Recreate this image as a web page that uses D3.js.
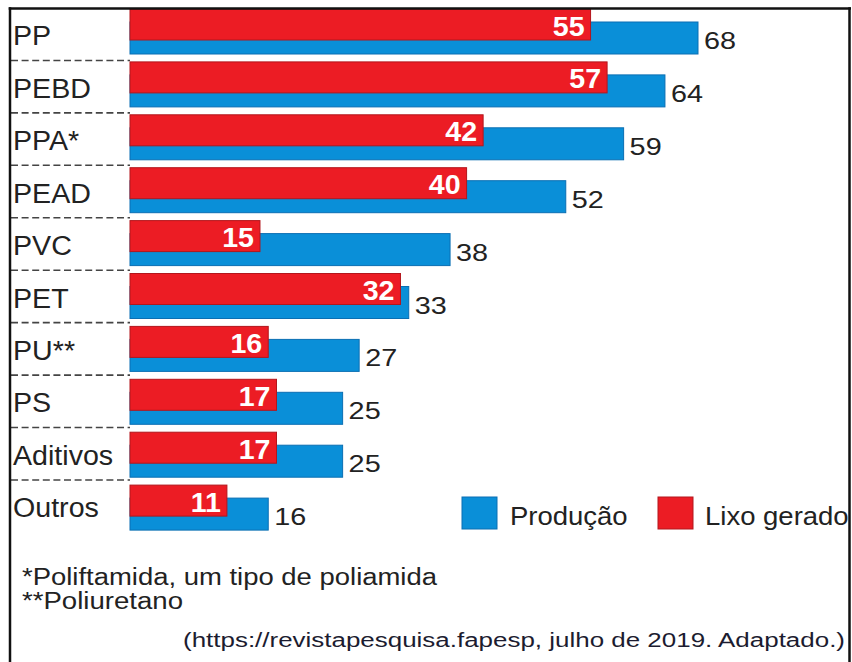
<!DOCTYPE html>
<html>
<head>
<meta charset="utf-8">
<script src="https://cdn.jsdelivr.net/npm/d3@7"></script>
<style>
  html, body { margin: 0; padding: 0; background: #fff; }
  svg { display: block; }
  text { font-family: "Liberation Sans", Arial, sans-serif; }
</style>
</head>
<body>
<script>
// ---- data ----
const categories = ["PP", "PEBD", "PPA*", "PEAD", "PVC", "PET", "PU**", "PS", "Aditivos", "Outros"];
const producao   = [68, 64, 59, 52, 38, 33, 27, 25, 25, 16];
const lixoGerado = [55, 57, 42, 40, 15, 32, 16, 17, 17, 11];
const seriesNames = ["Produção", "Lixo gerado"];
const footnotes = ["*Poliftamida, um tipo de poliamida", "**Poliuretano"];
const sourceText = "(https://revistapesquisa.fapesp, julho de 2019. Adaptado.)";

// ---- layout ----
const W = 852, H = 662;
const RED = "#ec1c24", BLUE = "#0a8fd8";
const RED_EDGE = "#b3161c", BLUE_EDGE = "#0a6fb3";
const TXT = "#222";

const svg = d3.select("body").append("svg").attr("width", W).attr("height", H);

const rows = categories.map((c, i) => ({ cat: c, prod: producao[i], lixo: lixoGerado[i] }));

const x = d3.scaleLinear().domain([0, 68]).range([136, 698]);
const barLeft = 130;
const yBar = d3.scaleBand().domain(categories).range([9, 9 + 52.9 * categories.length]).paddingInner(0);
const yRow = d3.scaleBand().domain(categories).range([8, 8 + 52.44 * categories.length]).paddingInner(0);

const redH = 31, blueOff = 13, blueH = 32;

// helper: text with horizontal stretch
function stretchText(g, sel) { return sel; }

// clip for the frame
svg.append("defs").append("clipPath").attr("id", "frame")
  .append("rect").attr("x", 0).attr("y", 0).attr("width", 848).attr("height", H);

const main = svg.append("g").attr("clip-path", "url(#frame)");

// separators
main.selectAll("line.sep").data(categories.slice(0, -1)).join("line")
  .attr("class", "sep")
  .attr("x1", 11).attr("x2", barLeft)
  .attr("y1", d => yRow(d) + yRow.bandwidth())
  .attr("y2", d => yRow(d) + yRow.bandwidth())
  .attr("stroke", "#444").attr("stroke-width", 1.6)
  .attr("stroke-dasharray", "7,3.6");

// category labels
main.selectAll("text.cat").data(categories).join("text")
  .attr("class", "cat")
  .attr("transform", d => `translate(13,${yRow(d) + 37.3}) scale(1.06,1)`)
  .attr("font-size", 27).attr("fill", TXT)
  .text(d => d);

// blue bars
main.selectAll("rect.prod").data(rows).join("rect")
  .attr("class", "prod")
  .attr("x", barLeft)
  .attr("y", d => yBar(d.cat) + blueOff)
  .attr("width", d => x(d.prod) - barLeft)
  .attr("height", blueH)
  .attr("fill", BLUE).attr("stroke", BLUE_EDGE).attr("stroke-width", 1);

// red bars
main.selectAll("rect.lixo").data(rows).join("rect")
  .attr("class", "lixo")
  .attr("x", barLeft)
  .attr("y", d => yBar(d.cat))
  .attr("width", d => x(d.lixo) - barLeft)
  .attr("height", redH)
  .attr("fill", RED).attr("stroke", RED_EDGE).attr("stroke-width", 1);

// red labels
main.selectAll("text.lixoLbl").data(rows).join("text")
  .attr("class", "lixoLbl")
  .attr("transform", d => `translate(${x(d.lixo) - 6},${yBar(d.cat) + 26.5}) scale(1.06,1)`)
  .attr("text-anchor", "end")
  .attr("font-size", 27).attr("font-weight", "bold").attr("fill", "#fff")
  .text(d => d.lixo);

// blue labels
main.selectAll("text.prodLbl").data(rows).join("text")
  .attr("class", "prodLbl")
  .attr("transform", d => `translate(${x(d.prod) + 6},${yBar(d.cat) + blueOff + 27}) scale(1.2,1)`)
  .attr("font-size", 24).attr("fill", TXT)
  .text(d => d.prod);

// legend
const legendItems = [
  { name: seriesNames[0], color: BLUE, edge: BLUE_EDGE, x: 462, tx: 510 },
  { name: seriesNames[1], color: RED, edge: RED_EDGE, x: 658, tx: 705 }
];
const lg = main.selectAll("g.leg").data(legendItems).join("g").attr("class", "leg");
lg.append("rect")
  .attr("x", d => d.x).attr("y", 497).attr("width", 35).attr("height", 32)
  .attr("fill", d => d.color).attr("stroke", d => d.edge).attr("stroke-width", 1);
lg.append("text")
  .attr("transform", d => `translate(${d.tx},525) scale(1.1,1)`)
  .attr("font-size", 25).attr("fill", TXT)
  .text(d => d.name);

// footnotes
const fnLens = [415, 161];
main.selectAll("text.fn").data(footnotes).join("text")
  .attr("class", "fn")
  .attr("x", 22).attr("y", (d, i) => 585 + i * 24)
  .attr("font-size", 23.5).attr("fill", TXT)
  .attr("textLength", (d, i) => fnLens[i]).attr("lengthAdjust", "spacingAndGlyphs")
  .text(d => d);

// source
main.append("text")
  .attr("x", 183).attr("y", 647)
  .attr("font-size", 19.5).attr("fill", "#1c1c30")
  .attr("textLength", 662).attr("lengthAdjust", "spacingAndGlyphs")
  .text(sourceText);

// frame
const frame = svg.append("g").attr("stroke", "#111").attr("stroke-width", 2.5).attr("fill", "none");
frame.append("line").attr("x1", 8.7).attr("x2", 851).attr("y1", 8.5).attr("y2", 8.5);
frame.append("line").attr("x1", 10).attr("x2", 10).attr("y1", 7.3).attr("y2", H);
frame.append("line").attr("x1", 849.5).attr("x2", 849.5).attr("y1", 7.3).attr("y2", H);
</script>
</body>
</html>
